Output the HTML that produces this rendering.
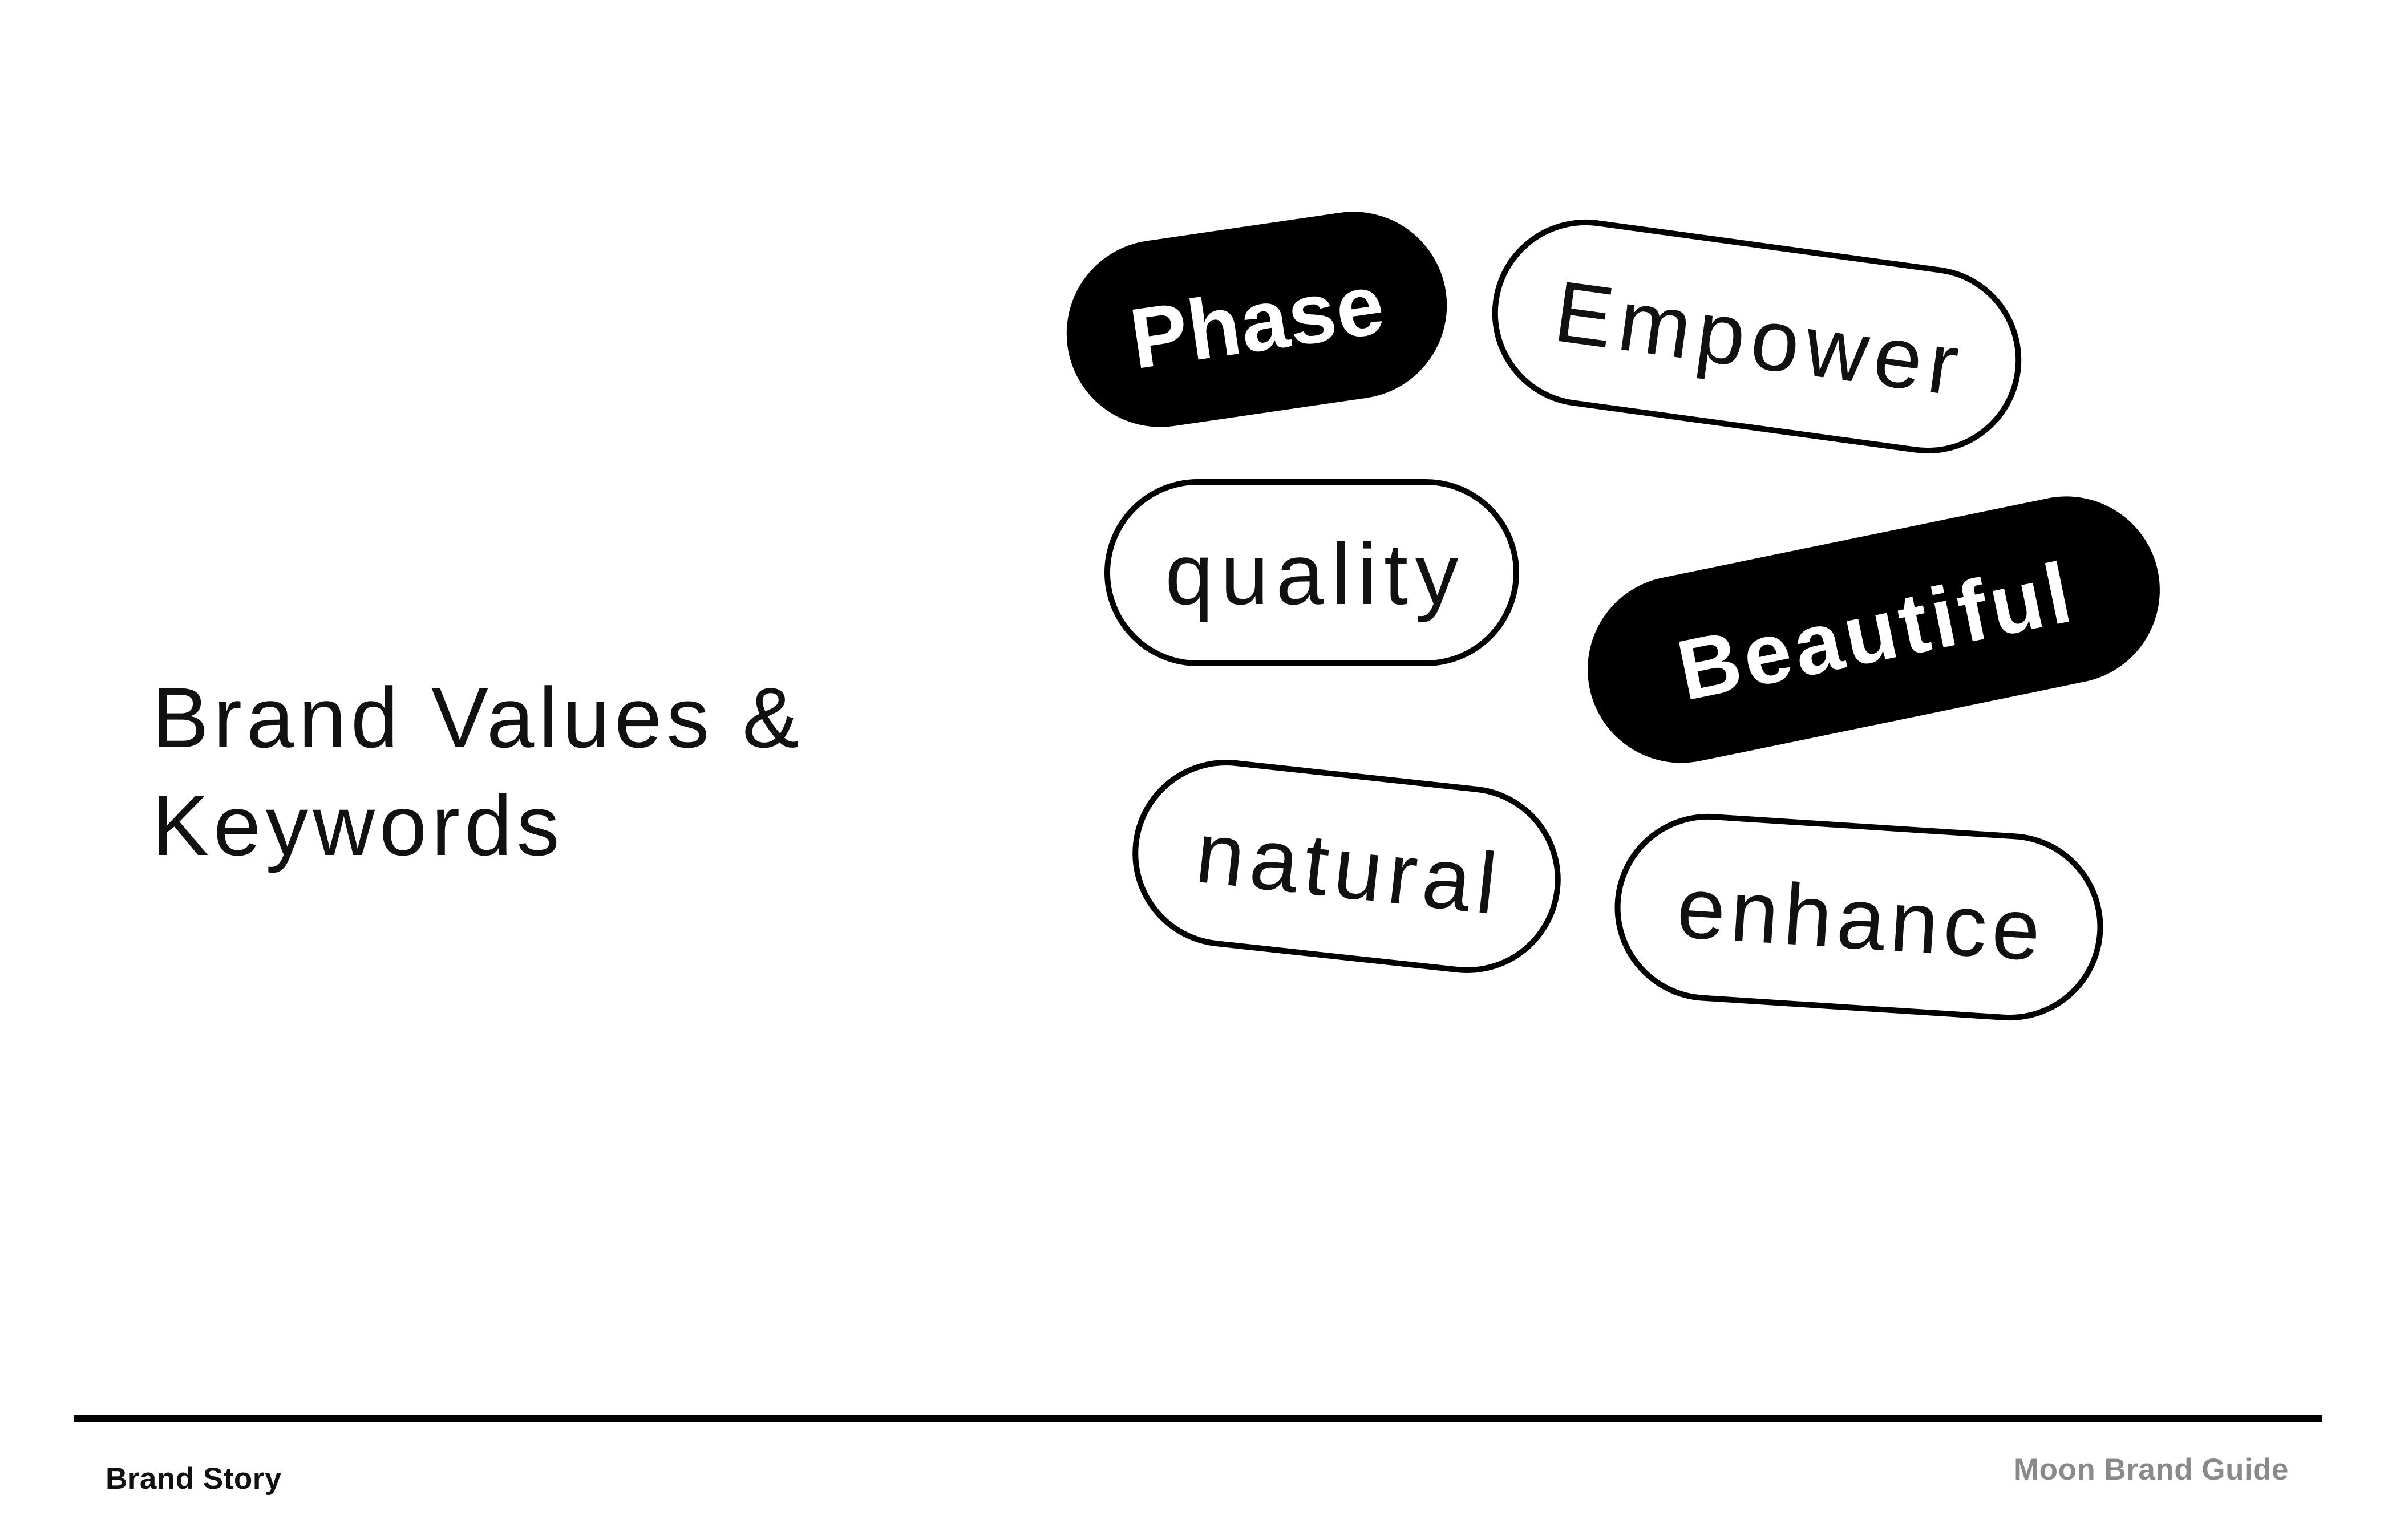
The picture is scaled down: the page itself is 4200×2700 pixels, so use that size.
<!DOCTYPE html>
<html>
<head>
<meta charset="utf-8">
<style>
  html, body { margin:0; padding:0; background:#fff; }
  body { width:4200px; height:2700px; position:relative; overflow:hidden;
         font-family:"Liberation Sans", "DejaVu Sans", sans-serif; }
  .title { position:absolute; left:266px; top:1164px; font-size:150px; line-height:189px;
           letter-spacing:8px; color:#111; white-space:nowrap; }
  .pill { position:absolute; box-sizing:border-box; height:328px; border:10px solid #000;
          border-radius:164px; background:#fff; text-align:center; line-height:308px;
          white-space:nowrap; color:#111; font-size:152px; }
  .pill.dark { background:#000; color:#fff; font-weight:bold; font-size:150px; }
  .pill span { position:relative; top:3px; }
  .rule { position:absolute; left:129px; top:2481px; width:3942px; height:12px; background:#000; }
  .foot { position:absolute; font-size:53px; line-height:53px; font-weight:bold;
          letter-spacing:0.5px; white-space:nowrap; }
</style>
</head>
<body>

<div class="title">Brand Values &amp;<br>Keywords</div>

<div class="pill dark" style="left:1868px; top:396px; width:670px; transform:rotate(-8.3deg); letter-spacing:1px; text-indent:1px;"><span>Phase</span></div>

<div class="pill" style="left:2613px; top:426px; width:933px; transform:rotate(7.8deg); letter-spacing:11.5px; text-indent:11.5px;"><span>Empower</span></div>

<div class="pill" style="left:1936px; top:840px; width:727px; letter-spacing:12.5px; text-indent:12.5px;"><span>quality</span></div>

<div class="pill dark" style="left:2776px; top:940px; width:1017px; transform:rotate(-11.65deg); letter-spacing:7px; text-indent:7px;"><span>Beautiful</span></div>

<div class="pill" style="left:1984px; top:1355px; width:753px; transform:rotate(6.2deg); letter-spacing:10.5px; text-indent:10.5px;"><span>natural</span></div>

<div class="pill" style="left:2830px; top:1444px; width:857px; transform:rotate(3.7deg); letter-spacing:9px; text-indent:9px;"><span>enhance</span></div>

<div class="rule"></div>

<div class="foot" style="left:185px; top:2566px; color:#111;">Brand Story</div>
<div class="foot" style="left:3530px; top:2550px; color:#8a8a8a;">Moon Brand Guide</div>

</body>
</html>
